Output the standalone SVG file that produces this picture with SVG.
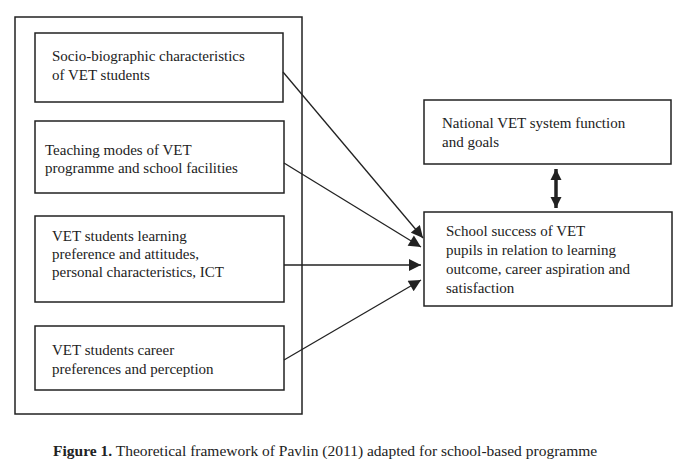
<svg xmlns="http://www.w3.org/2000/svg" width="690" height="467" viewBox="0 0 690 467">
<style>
rect{fill:none;stroke:#222;stroke-width:1.5}
text{font-family:"Liberation Serif","Times New Roman",serif;font-size:15px;fill:#222}
.c line{stroke:#222;stroke-width:1.3}
</style>
<defs><marker id="a" viewBox="0 0 10 10" refX="10" refY="5" markerWidth="14" markerHeight="12" markerUnits="userSpaceOnUse" orient="auto-start-reverse"><path d="M0,0L10,5L0,10z" fill="#222"/></marker>
<marker id="b" viewBox="0 0 10 10" refX="10" refY="5" markerWidth="11" markerHeight="14" markerUnits="userSpaceOnUse" orient="auto-start-reverse"><path d="M0,0L10,5L0,10z" fill="#222"/></marker></defs>
<rect x="15" y="17" width="287" height="397"/>
<g id="n1"><rect x="35" y="33" width="248" height="69"/><text x="52" y="61">Socio-biographic characteristics</text><text x="52" y="80">of VET students</text></g>
<g id="n2"><rect x="35" y="121" width="249" height="72"/><text x="45" y="155">Teaching modes of VET</text><text x="45" y="173">programme and school facilities</text></g>
<g id="n3"><rect x="35" y="216" width="249" height="86"/><text x="52" y="241">VET students learning</text><text x="52" y="259">preference and attitudes,</text><text x="52" y="277">personal characteristics, ICT</text></g>
<g id="n4"><rect x="35" y="326" width="249" height="64"/><text x="52" y="355">VET students career</text><text x="52" y="374">preferences and perception</text></g>
<g id="n5"><rect x="424" y="100" width="247" height="64"/><text x="442" y="128">National VET system function</text><text x="442" y="147">and goals</text></g>
<g id="n6"><rect x="424" y="212" width="248" height="94"/><text x="446" y="236">School success of VET</text><text x="446" y="255">pupils in relation to learning</text><text x="446" y="274">outcome, career aspiration and</text><text x="446" y="293">satisfaction</text></g>
<g class="c">
<line x1="283" y1="72" x2="423" y2="238" marker-end="url(#a)"/>
<line x1="284" y1="163" x2="421" y2="247" marker-end="url(#a)"/>
<line x1="284" y1="265" x2="421" y2="265" marker-end="url(#a)"/>
<line x1="284" y1="360" x2="421" y2="280" marker-end="url(#a)"/>
<line x1="556" y1="169" x2="556" y2="208" style="stroke-width:3.5" marker-start="url(#b)" marker-end="url(#b)"/>
</g>
<text x="53" y="456" style="font-size:15.5px"><tspan font-weight="bold">Figure 1.</tspan> Theoretical framework of Pavlin (2011) adapted for school-based programme</text>
</svg>
